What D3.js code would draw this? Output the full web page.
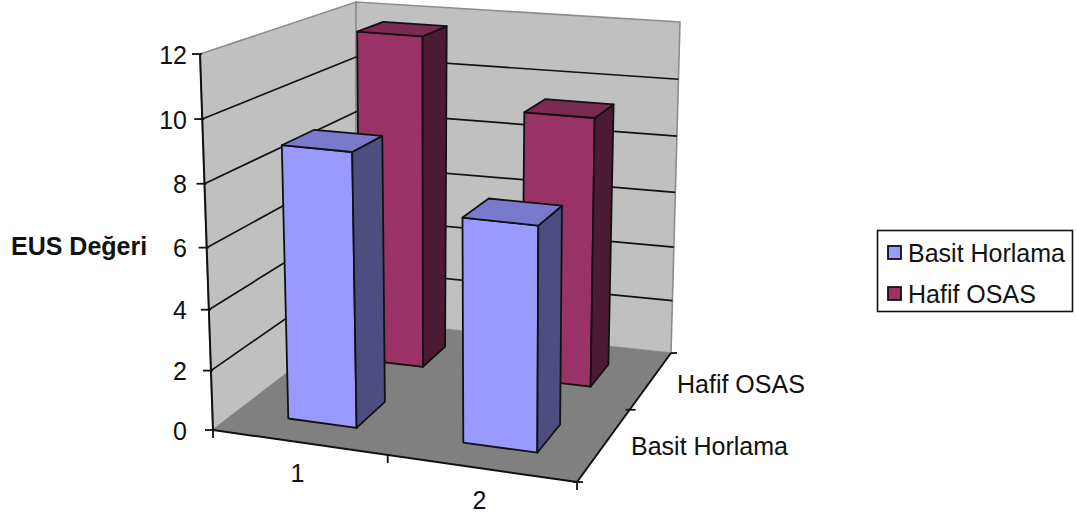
<!DOCTYPE html>
<html>
<head>
<meta charset="utf-8">
<script src="https://d3js.org/d3.v7.min.js"></script>
<style>
  html, body { margin: 0; padding: 0; background: #fff; }
  svg { display: block; }
  text { font-family: "Liberation Sans", Arial, sans-serif; fill: #111; }
</style>
</head>
<body>
<svg id="chart" width="1077" height="520"></svg>
<script>
// EUS values by group and snoring class
const categories = ["1", "2"];
const seriesNames = ["Basit Horlama", "Hafif OSAS"];
const basitValues = [9.0, 7.3];
const hafifValues = [11.65, 9.35];
const valueTicks = [0, 2, 4, 6, 8, 10, 12];
const axisTitle = "EUS Değeri";

const seriesColors = {
  "Basit Horlama": { front: "#9999ff", side: "#4d4d80", top: "#7a7acc" },
  "Hafif OSAS": { front: "#993366", side: "#4d1a33", top: "#7a2952" }
};

const svg = d3.select("#chart");

// The eight corners of the chart box on screen
const box = {
  fl0: [213, 430], fl1: [200, 54],
  fr0: [577, 482], fr1: [580, 87],
  bl0: [356, 320], bl1: [356, 2],
  br0: [671, 353], br1: [680, 22]
};

// Perspective is approximated by non-uniform scales along each box axis
const catAxis = d3.scaleLinear().domain([0, 1, 2]).range([0, 0.48, 1]);
const depthAxis = d3.scaleLinear().domain([0, 1, 2]).range([0, 0.56, 1]);
const valueAxis = d3.scaleLinear().domain(valueTicks)
  .range([0, 0.158, 0.32, 0.485, 0.655, 0.827, 1]);

const catBand = d3.scaleBand().domain(categories).range([0, 2]).paddingInner(0.6).paddingOuter(0.3);
const depthBand = d3.scaleBand().domain(seriesNames).range([0, 2]).paddingInner(0.6).paddingOuter(0.3);

const mix = (a, b, t) => [a[0] + (b[0] - a[0]) * t, a[1] + (b[1] - a[1]) * t];

function project(c, d, v) {
  const u = catAxis(c), w = depthAxis(d), h = valueAxis(v);
  const front = mix(mix(box.fl0, box.fr0, u), mix(box.fl1, box.fr1, u), h);
  const back = mix(mix(box.bl0, box.br0, u), mix(box.bl1, box.br1, u), h);
  return mix(front, back, w);
}

const poly = pts => "M" + pts.map(p => p[0].toFixed(1) + "," + p[1].toFixed(1)).join("L") + "Z";
const seg = (g, a, b, color, width) => g.append("line")
  .attr("x1", a[0]).attr("y1", a[1]).attr("x2", b[0]).attr("y2", b[1])
  .attr("stroke", color).attr("stroke-width", width);

// Walls and floor
const walls = svg.append("g");
const wallEdge = "#8c8c8c";
walls.append("path").attr("d", poly([project(0,0,0), project(0,0,12), project(0,2,12), project(0,2,0)]))
  .attr("fill", "#c0c0c0").attr("stroke", wallEdge).attr("stroke-width", 1.6);
walls.append("path").attr("d", poly([project(0,2,0), project(0,2,12), project(2,2,12), project(2,2,0)]))
  .attr("fill", "#c0c0c0").attr("stroke", wallEdge).attr("stroke-width", 1.6);
walls.append("path").attr("d", poly([project(0,0,0), project(0,2,0), project(2,2,0), project(2,0,0)]))
  .attr("fill", "#808080");

// Gridlines along both walls
const grid = svg.append("g");
valueTicks.filter(v => v > 0 && v < 12).forEach(v => {
  seg(grid, project(0,0,v), project(0,2,v), "#111", 1.7);
  seg(grid, project(0,2,v), project(2,2,v), "#111", 1.7);
});

// Axis lines and tick marks
const axes = svg.append("g");
seg(axes, project(0,0,0), project(0,0,12), "#111", 2);
seg(axes, project(0,0,0), project(2,0,0), "#111", 2);
seg(axes, project(2,0,0), project(2,2,0), "#111", 2);
valueTicks.forEach(v => {
  const p = project(0,0,v);
  seg(axes, [p[0] - 8, p[1]], [p[0] + 2, p[1]], "#111", 1.8);
});
[0, 1, 2].forEach(c => {
  const p = project(c, 0, 0);
  seg(axes, [p[0], p[1]], [p[0], p[1] + 8], "#111", 1.8);
});
[0, 1, 2].forEach(d => {
  const p = project(2, d, 0);
  seg(axes, [p[0] - (d === 2 ? 0 : 4), p[1]], [p[0] + 6, p[1]], "#111", 1.8);
});

// Bars, rear row first so the front row overlaps it
const rows = [
  { name: "Hafif OSAS", values: hafifValues },
  { name: "Basit Horlama", values: basitValues }
];
const bars = svg.append("g");
rows.forEach(row => {
  const d0 = depthBand(row.name), d1 = d0 + depthBand.bandwidth();
  const col = seriesColors[row.name];
  categories.forEach((cat, i) => {
    const c0 = catBand(cat), c1 = c0 + catBand.bandwidth(), v = row.values[i];
    const faces = [
      { pts: [project(c0,d0,0), project(c0,d0,v), project(c1,d0,v), project(c1,d0,0)], fill: col.front },
      { pts: [project(c1,d0,0), project(c1,d0,v), project(c1,d1,v), project(c1,d1,0)], fill: col.side },
      { pts: [project(c0,d0,v), project(c0,d1,v), project(c1,d1,v), project(c1,d0,v)], fill: col.top }
    ];
    bars.selectAll(null).data(faces).join("path")
      .attr("d", f => poly(f.pts))
      .attr("fill", f => f.fill)
      .attr("stroke", "#111").attr("stroke-width", 1.8).attr("stroke-linejoin", "round");
  });
});

// Text labels
const labelSize = 25;
const label = (x, y, str, anchor, weight) => svg.append("text")
  .attr("x", x).attr("y", y).attr("text-anchor", anchor || "start")
  .attr("dominant-baseline", "central")
  .attr("font-size", labelSize).attr("font-weight", weight || "normal").text(str);

valueTicks.forEach(v => {
  const p = project(0,0,v);
  label(187, p[1] + 0.5, String(v), "end");
});
label(11, 246, axisTitle, "start", "bold");

// Category labels sit below the front edge of the floor
categories.forEach((cat, i) => {
  const c = catBand(cat) + catBand.bandwidth() / 2;
  const p = project(c, 0, 0);
  label(p[0] + [-3, -3][i], p[1] + [31, 32][i], cat, "middle");
});

label(631, 446, seriesNames[0]);
label(677, 384, seriesNames[1]);

// Legend
const legend = svg.append("g");
legend.append("rect").attr("x", 877.5).attr("y", 230.5).attr("width", 195).attr("height", 81)
  .attr("fill", "#fff").attr("stroke", "#111").attr("stroke-width", 1.6);
seriesNames.forEach((name, i) => {
  const y = 246 + i * 41;
  legend.append("rect").attr("x", 888).attr("y", y).attr("width", 13).attr("height", 13)
    .attr("fill", seriesColors[name].front).attr("stroke", "#111").attr("stroke-width", 1.8);
  legend.append("text").attr("x", 908).attr("y", y + 6.5).attr("dominant-baseline", "central")
    .attr("font-size", labelSize).text(name);
});
</script>
</body>
</html>
